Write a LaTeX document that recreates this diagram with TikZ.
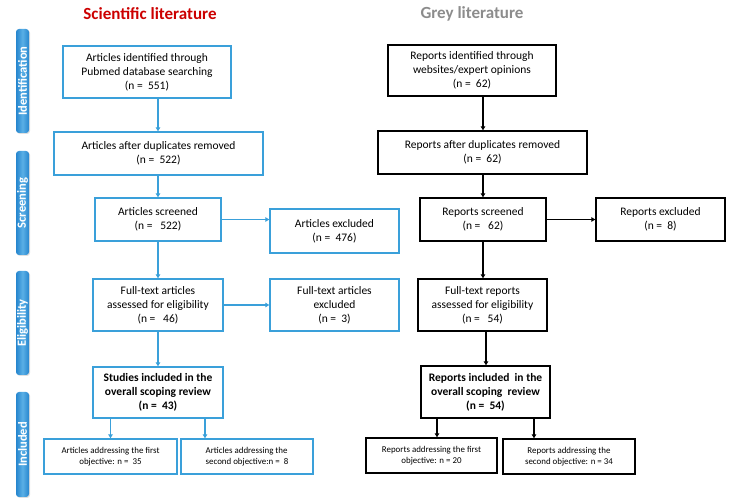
\documentclass[tikz,border=0pt]{standalone}
\usepackage{fontspec}
\setmainfont{Carlito}
\usetikzlibrary{arrows.meta,shadows}
\definecolor{bandblue}{RGB}{38,134,206}
\definecolor{bandlight}{RGB}{90,175,230}
\definecolor{boxblue}{RGB}{58,160,218}
\definecolor{titlered}{RGB}{204,0,0}
\definecolor{titlegrey}{RGB}{140,140,140}
\tikzset{
  bluebox/.style={draw=boxblue, line width=1.4pt, fill=white, align=center, inner sep=2pt,
    font=\fontsize{11.5}{14}\selectfont},
  blackbox/.style={draw=black, line width=1.4pt, fill=white, align=center, inner sep=2pt,
    font=\fontsize{11.5}{14}\selectfont},
  smallfont/.style={font=\fontsize{8.9}{11}\selectfont},
  boldfont/.style={font=\bfseries\fontsize{11.5}{14}\selectfont},
  bluearrow/.style={draw=boxblue, line width=1.3pt, -{Triangle[length=4pt,width=4.5pt]}},
  blackarrow/.style={draw=black, line width=1.3pt, -{Triangle[length=4pt,width=4.5pt]}},
  band/.style={rounded corners=3pt, left color=bandblue, right color=bandblue, middle color=bandlight,
    draw=none, minimum width=13pt, inner sep=0pt},
  bandtext/.style={rotate=90, text=white, font=\bfseries\fontsize{12.5}{14}\selectfont},
  title/.style={font=\bfseries\fontsize{17}{20}\selectfont}
}
\begin{document}
\begin{tikzpicture}[x=1pt,y=-1pt]
\useasboundingbox (0,0) rectangle (732,502);
% titles
\node[title, text=titlered] (t1) at (150,14) {Scientific literature};
\node[title, text=titlegrey] (t2) at (472,14) {Grey literature};
% bands
\node[band, minimum height=104pt, drop shadow={opacity=0.25,shadow xshift=1pt,shadow yshift=-1pt}] (bid) at (22.5,81) {};
\node[bandtext] (lid) at (22.5,81) {Identification};
\node[band, minimum height=104pt, drop shadow={opacity=0.25,shadow xshift=1pt,shadow yshift=-1pt}] (bsc) at (22.5,203) {};
\node[bandtext] (lsc) at (22.5,203) {Screening};
\node[band, minimum height=104pt, drop shadow={opacity=0.25,shadow xshift=1pt,shadow yshift=-1pt}] (bel) at (22.5,323) {};
\node[bandtext] (lel) at (22.5,323) {Eligibility};
\node[band, minimum height=105pt, drop shadow={opacity=0.25,shadow xshift=1pt,shadow yshift=-1pt}] (bin) at (22.5,444.5) {};
\node[bandtext] (lin) at (22.5,444.5) {Included};
% scientific boxes
\node[bluebox, minimum width=168pt, minimum height=52pt] (b1) at (147,72) {Articles identified through\\Pubmed database searching\\(n =\ \ 551)};
\node[bluebox, minimum width=209pt, minimum height=43pt] (b2) at (158.5,153.5) {Articles after duplicates removed\\(n =\ \ 522)};
\node[bluebox, minimum width=126pt, minimum height=43pt] (b3) at (158,219.5) {Articles screened\\(n =\ \ \ 522)};
\node[bluebox, minimum width=129pt, minimum height=44pt] (b4) at (334.5,231) {Articles excluded\\(n =\ \ 476)};
\node[bluebox, minimum width=130pt, minimum height=52pt] (b5) at (158,305) {Full-text articles\\assessed for eligibility\\(n =\ \ \ 46)};
\node[bluebox, minimum width=129pt, minimum height=52pt] (b6) at (334.5,305) {Full-text articles\\excluded\\(n =\ \ 3)};
\node[bluebox, boldfont, minimum width=130pt, minimum height=51pt] (b7) at (158,392.5) {Studies included in the\\overall scoping review\\(n =\ \ 43)};
\node[bluebox, smallfont, minimum width=133pt, minimum height=35pt] (b8) at (110.5,456.5) {Articles addressing the first\\objective: n =\ \ 35};
\node[bluebox, smallfont, minimum width=132pt, minimum height=35pt, align=left] (b9) at (247,456.5) {Articles addressing the\\second objective:n =\ \ 8};
% grey boxes
\node[blackbox, minimum width=168pt, minimum height=51pt] (r1) at (472,70.5) {Reports identified through\\websites/expert opinions\\(n =\ \ 62)};
\node[blackbox, minimum width=209pt, minimum height=43pt] (r2) at (482.5,152.5) {Reports after duplicates removed\\(n =\ \ 62)};
\node[blackbox, minimum width=126pt, minimum height=43pt] (r3) at (483,219.5) {Reports screened\\(n =\ \ \ 62)};
\node[blackbox, minimum width=129pt, minimum height=43pt] (r4) at (660.5,219.5) {Reports excluded\\(n =\ \ 8)};
\node[blackbox, minimum width=129pt, minimum height=52pt] (r5) at (482.5,305) {Full-text reports\\assessed for eligibility\\(n =\ \ \ 54)};
\node[blackbox, boldfont, minimum width=129pt, minimum height=52pt] (r6) at (485.5,392) {Reports included\ \ in the\\overall scoping\ \ review\\(n =\ \ 54)};
\node[blackbox, smallfont, minimum width=131pt, minimum height=35pt] (r7) at (431.5,455.5) {Reports addressing the first\\objective: n = 20};
\node[blackbox, smallfont, minimum width=132pt, minimum height=35pt] (r8) at (569,456.5) {Reports addressing the\\second objective: n = 34};
% coordinates for arrows
\coordinate (cs) at (158,0);
\coordinate (cs2) at (205,0);
\coordinate (cg) at (483,0);
\coordinate (cg2) at (486,0);
\coordinate (cg3) at (534,0);
\coordinate (cg4) at (437,0);
% scientific arrows
\draw[bluearrow] (b1.south -| cs) -- (b2.north -| cs);
\draw[bluearrow] (b2.south -| cs) -- (b3.north -| cs);
\draw[bluearrow] (b3.south -| cs) -- (b5.north -| cs);
\draw[bluearrow] (b5.south -| cs) -- (b7.north -| cs);
\draw[bluearrow] (b3.east) -- (b3.east -| b4.west);
\draw[bluearrow] (b5.east) -- (b6.west);
\draw[bluearrow] (b7.south -| b8.north) -- (b8.north);
\draw[bluearrow] (b7.south -| cs2) -- (b9.north -| cs2);
% grey arrows
\draw[blackarrow] (r1.south -| cg) -- (r2.north -| cg);
\draw[blackarrow] (r2.south -| cg) -- (r3.north -| cg);
\draw[blackarrow] (r3.south -| cg) -- (r5.north -| cg);
\draw[blackarrow] (r5.south -| cg2) -- (r6.north -| cg2);
\draw[blackarrow] (r3.east) -- (r4.west);
\draw[blackarrow] (r6.south -| cg4) -- (r7.north -| cg4);
\draw[blackarrow] (r6.south -| cg3) -- (r8.north -| cg3);
\end{tikzpicture}
\end{document}
